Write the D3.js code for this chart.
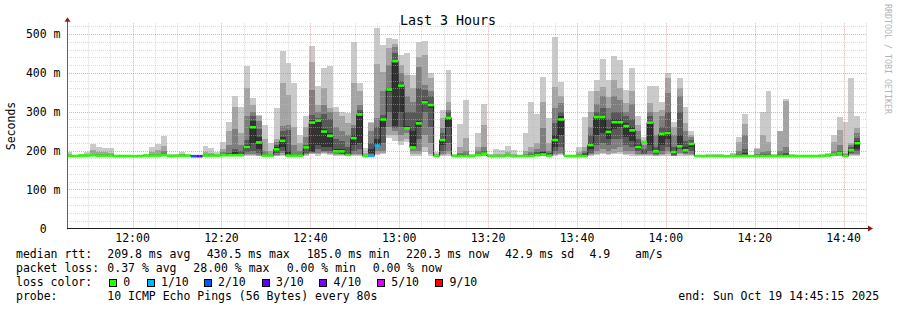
<!DOCTYPE html>
<html><head><meta charset="utf-8">
<script src="https://cdn.jsdelivr.net/npm/d3@7"></script>
<style>
html,body{margin:0;padding:0;background:#fff;}
svg{display:block;font-family:"DejaVu Sans Mono",monospace;}
</style></head><body>
<svg id="c" width="897" height="310"></svg>
<script>
// ---------- data ----------
const title = "Last 3 Hours";
const yAxisTitle = "Seconds";
const watermark = "RRDTOOL / TOBI OETIKER";
const endTime = new Date(2025, 9, 19, 14, 45, 15);
const spanHours = 3;
const stepSeconds = 80;
const firstSampleOffset = -10; // seconds relative to graph start
const yMax = 530;
const yTicks = [0, 100, 200, 300, 400, 500];
const yTickLabels = ["0", "100 m", "200 m", "300 m", "400 m", "500 m"];

// median rtt (ms) per 80 s step
const median = [
 186,186,187,187,188,187,187,187,186,186, 186,185.5,186,187,187,187,188,186,186.5,187,
 187,185.5,185.5,187,187,187,188,188,188,188, 209,260,221,187,187,203,225,187,187,187,
 208,272,277,249,238,198,198,189,232,293, 186,186,213,280,357,430,367,257,208,270,
 324,317,186,227,284,186,186,186,186,188, 192,186,186,185.5,187,185.5,186,186,186,188,
 190,187,227,280,186,186,186,186,214,286, 286,248,273,273,263,252,209,222,272,198,
 243,245,196,211,201,217,186,186,186,186, 186,185.5,186,186,186,186,185.5,186,186,186,
 186,186,186,186,186,186,186,186,187,190, 193,186,201,219,null
];
// lost pings out of 10 per step
const loss = [
 0,0,0,0,0,0,0,0,0,0, 0,0,0,0,0,0,0,0,0,0,
 0,2,3,0,0,0,0,0,0,0, 0,0,0,0,0,0,0,0,0,0,
 0,0,0,0,0,0,0,0,0,0, 0,1,1,0,0,0,0,0,0,0,
 0,0,0,0,0,0,0,0,0,0, 0,0,0,0,0,0,0,0,0,0,
 0,0,0,0,0,0,0,0,0,0, 0,0,0,0,0,0,0,0,0,0,
 0,0,0,0,0,0,0,0,0,0, 0,0,0,0,0,0,0,0,0,0,
 0,0,0,0,0,0,0,0,0,0, 0,0,0,0,0
];
// sorted ping times (ms) per step (smoke)
const pings = [
 [185,185,186,186,186,187,187,188,190,197],
 [185,185,186,186,186,186,187,187,188,189],
 [185,186,186,187,187,187,188,188,189,190],
 [185,186,186,187,187,188,188,189,191,197],
 [185,186,187,187,188,188,189,190,201,217],
 [185,186,186,187,187,188,189,192,197,208],
 [185,186,186,187,187,188,189,191,197,207],
 [185,186,186,187,187,187,188,190,195,207],
 [185,185,186,186,186,187,187,187,188,189],
 [185,185,186,186,186,187,187,187,188,189],
 [185,185,186,186,186,186,187,187,188,188],
 [185,185,185,186,186,186,186,187,187,188],
 [185,185,186,186,186,187,187,187,188,189],
 [185,186,186,187,187,187,188,188,189,191],
 [185,186,186,187,187,188,188,190,197,208],
 [185,186,186,187,187,188,189,192,201,217],
 [185,186,187,187,188,189,191,200,212,237],
 [185,185,186,186,186,187,187,187,188,190],
 [185,186,186,186,187,187,187,188,189,191],
 [185,186,186,187,187,188,188,190,192,197],
 [185,186,186,186,187,187,187,188,188,190],
 [185,185,185,186,186,186,186,187,187,188],
 [185,185,185,185,186,186,186,186,187,188],
 [185,186,186,187,187,188,189,191,197,212],
 [185,186,186,187,187,188,188,190,194,206],
 [185,186,186,186,187,187,188,188,190,197],
 [185,186,187,187,188,189,191,196,205,223],
 [185,186,187,188,189,191,195,215,250,274],
 [186,187,188,190,192,196,205,255,313,340],
 [186,187,188,189,190,192,198,215,245,313],
 [187,189,192,197,205,215,227,289,360,418],
 [186,188,192,200,220,275,290,300,318,334],
 [186,187,189,195,205,235,255,275,290,291],
 [185,186,187,187,188,189,191,200,230,266],
 [185,186,186,187,187,188,189,192,200,219],
 [186,187,189,193,198,208,215,222,231,309],
 [187,189,193,199,210,235,250,263,373,457],
 [185,186,186,187,188,200,253,265,343,425],
 [185,186,186,187,187,188,192,215,261,375],
 [185,186,186,187,187,188,190,200,220,240],
 [187,188,190,195,205,210,215,235,260,290],
 [190,192,194,196,197,278,292,356,429,470],
 [187,190,195,205,214,280,284,300,317,367],
 [190,193,196,199,210,255,294,317,361,412],
 [188,191,195,200,210,245,280,300,309,418],
 [186,188,190,193,197,205,230,260,299,313],
 [186,188,190,192,197,203,225,250,290,298],
 [185,186,187,188,189,195,210,240,270,297],
 [186,188,190,200,215,240,258,266,374,479],
 [186,188,192,205,220,300,305,317,352,374],
 [185,185,186,186,186,187,187,189,195,207],
 [185,186,187,190,195,205,220,250,272,274],
 [188,192,200,210,213,230,260,284,422,515],
 [192,195,200,220,260,285,292,352,403,472],
 [232,240,260,300,350,360,361,420,463,490],
 [225,240,250,258,262,432,450,467,475,486],
 [214,225,240,260,300,370,380,400,420,445],
 [222,230,245,255,257,262,300,340,394,450],
 [186,190,200,208,210,250,300,326,360,394],
 [186,190,200,230,260,275,361,416,442,480],
 [197,210,240,300,320,330,355,369,446,482],
 [186,190,220,260,310,320,340,352,386,399],
 [185,186,186,187,187,187,188,189,192,197],
 [186,188,192,200,215,230,245,258,284,304],
 [186,190,200,220,260,287,300,304,326,407],
 [185,185,186,186,186,187,187,188,189,192],
 [185,186,186,187,187,188,190,195,210,268],
 [185,186,187,187,188,189,192,200,232,330],
 [185,185,186,186,186,187,187,188,189,191],
 [185,186,187,187,188,189,192,198,210,244],
 [186,187,188,190,191,195,200,210,266,320],
 [185,185,186,186,186,187,187,188,188,190],
 [185,186,186,186,187,187,188,189,192,204],
 [185,185,186,186,186,187,187,188,190,201],
 [185,186,186,187,187,188,189,191,196,212],
 [185,185,186,186,186,187,187,188,190,201],
 [185,185,186,186,186,186,187,187,188,189],
 [185,186,186,187,187,188,189,192,200,244],
 [185,186,186,187,188,189,191,196,210,326],
 [185,186,187,188,189,192,196,203,219,294],
 [186,187,188,190,192,196,200,257,326,390],
 [185,186,187,188,189,192,195,200,219,283],
 [186,188,190,198,210,240,270,309,364,493],
 [188,190,195,210,240,290,300,322,340,377],
 [185,185,186,186,186,187,187,187,188,189],
 [185,185,186,186,186,187,187,187,188,189],
 [185,186,186,187,187,188,189,191,196,210],
 [185,186,187,188,189,191,195,200,210,287],
 [186,188,190,195,205,220,240,260,300,352],
 [188,192,200,215,240,288,300,320,352,382],
 [190,195,205,220,245,290,310,340,364,436],
 [188,192,200,215,230,255,280,310,339,382],
 [190,195,205,230,255,280,300,340,382,443],
 [190,196,210,230,260,280,300,330,361,433],
 [188,192,200,215,235,270,290,300,322,356],
 [186,190,198,210,225,260,280,320,352,412],
 [186,188,192,198,205,215,230,250,266,289],
 [186,188,190,192,196,200,205,215,225,236],
 [186,188,192,200,215,275,290,300,322,367],
 [186,187,189,192,196,200,210,240,300,367],
 [186,188,192,200,215,245,260,290,305,326],
 [186,190,198,210,230,250,300,347,386,399],
 [185,186,187,188,192,198,210,240,260,274],
 [187,190,195,205,215,240,300,340,360,386],
 [186,188,190,194,200,210,225,250,270,313],
 [186,188,191,198,210,220,228,235,240,250],
 [185,185,186,186,186,187,187,187,188,189],
 [185,185,186,186,186,187,187,187,188,189],
 [185,185,186,186,186,187,187,188,189,191],
 [185,185,186,186,186,187,187,188,189,191],
 [185,185,186,186,186,187,187,188,189,191],
 [185,185,185,186,186,186,187,187,188,189],
 [185,185,186,186,186,187,187,188,190,193],
 [185,186,186,187,187,188,190,200,223,234],
 [185,186,187,188,190,195,205,240,268,294],
 [185,185,186,186,186,187,187,187,188,189],
 [185,185,186,186,186,187,188,190,203,207],
 [185,186,186,187,187,188,190,196,240,300],
 [185,186,186,187,187,188,190,198,223,352],
 [185,185,186,186,186,187,187,188,189,190],
 [185,186,186,187,187,188,190,200,250,251],
 [185,186,186,187,188,190,195,210,328,332],
 [185,185,186,186,186,187,187,188,189,191],
 [185,185,186,186,186,187,187,187,188,189],
 [185,185,186,186,186,187,187,187,188,189],
 [185,185,186,186,186,187,187,187,188,189],
 [185,185,186,186,186,187,187,187,188,189],
 [185,185,186,186,186,187,187,187,188,190],
 [185,186,186,187,187,188,188,189,190,193],
 [185,186,187,188,189,190,193,200,223,240],
 [186,187,188,190,192,196,200,215,253,287],
 [185,186,186,187,187,188,189,191,195,274],
 [186,188,190,194,198,205,210,215,220,386],
 [187,189,192,198,205,225,233,245,259,289],
 null
];

const lossBuckets = [0, 1, 2, 3, 4, 5, 9];
const lossColors = ["#26ff00", "#00b8ff", "#0059ff", "#5e00ff", "#7e00ff", "#dd00ff", "#ff0000"];
const lossLabels = ["0", "1/10", "2/10", "3/10", "4/10", "5/10", "9/10"];

const rttLabel = "median rtt:";
const rttStats = ["209.8 ms avg", "430.5 ms max", "185.0 ms min", "220.3 ms now", "42.9 ms sd", "4.9", "am/s"];
const lossLabel = "packet loss:";
const lossStats = ["0.37 % avg", "28.00 % max", "0.00 % min", "0.00 % now"];
const lossColorLabel = "loss color:";
const probeLabel = "probe:";
const probeText = "10 ICMP Echo Pings (56 Bytes) every 80s";
const endText = "end: Sun Oct 19 14:45:15 2025";

// ---------- layout ----------
const W = 897, H = 310;
const plot = {left: 67, right: 867, bottom: 228.3, top: 22.3};
const smokeGrays = ["#cacaca", "#a4a4a4", "#7e7e7e", "#585858", "#323232"];
const FS = 11.5;

const svg = d3.select("#c");
svg.append("rect").attr("width", W).attr("height", H).attr("fill", "#fff");

const startTime = new Date(endTime.getTime() - spanHours * 3600e3);
const x = d3.scaleTime().domain([startTime, endTime]).range([plot.left, plot.right]);
const y = d3.scaleLinear().domain([0, yMax]).range([plot.bottom, plot.top]);

const cols = median.map((m, k) => {
  const t0 = new Date(startTime.getTime() + (firstSampleOffset + k * stepSeconds) * 1000);
  const t1 = new Date(t0.getTime() + stepSeconds * 1000);
  return {k, m, p: pings[k], l: loss[k], x0: Math.max(plot.left, x(t0)), x1: Math.min(plot.right, x(t1))};
}).filter(c => c.x1 > c.x0);

const defs = svg.append("defs");
defs.append("clipPath").attr("id", "pc").append("rect")
  .attr("x", plot.left).attr("y", plot.top).attr("width", plot.right - plot.left).attr("height", plot.bottom - plot.top);

const g = svg.append("g").attr("clip-path", "url(#pc)");

// smoke
cols.filter(c => c.p).forEach(c => {
  for (let b = 0; b < 5; b++) {
    const lo = c.p[b], hi = c.p[9 - b];
    const yt = y(hi), yb = y(lo);
    g.append("rect").attr("x", c.x0).attr("width", c.x1 - c.x0)
      .attr("y", yt).attr("height", Math.max(0, yb - yt))
      .attr("fill", smokeGrays[b]).attr("shape-rendering", "crispEdges");
  }
});

// median line
const pts = [];
cols.forEach(c => {
  if (c.m == null) { pts.push(null); return; }
  pts.push([c.x0, y(c.m)], [c.x1, y(c.m)]);
});
g.append("path")
  .attr("d", d3.line().defined(d => d != null).x(d => d[0]).y(d => d[1])(pts))
  .attr("fill", "none").attr("stroke", "#202020").attr("stroke-width", 1);

// median markers colored by loss
function lossColor(l) {
  const i = lossBuckets.findIndex(b => l <= b);
  return lossColors[i < 0 ? lossColors.length - 1 : i];
}
cols.filter(c => c.m != null).forEach(c => {
  g.append("rect").attr("x", c.x0).attr("width", c.x1 - c.x0)
    .attr("y", y(c.m) - 1.3).attr("height", 2.6)
    .attr("fill", lossColor(c.l));
});

// grid (drawn over data like rrdtool)
const grid = svg.append("g");
const minorV = d3.timeMinute.every(5).range(startTime, endTime);
minorV.forEach(t => {
  const major = t.getMinutes() % 20 === 0;
  const xx = Math.round(x(t)) + 0.5;
  grid.append("line").attr("x1", xx).attr("x2", xx).attr("y1", plot.bottom).attr("y2", plot.top)
    .attr("stroke", major ? "rgba(255,92,92,0.55)" : "rgba(186,186,186,0.5)")
    .attr("stroke-dasharray", "1,1");
});
d3.range(20, yMax, 20).forEach(v => {
  const major = v % 100 === 0;
  const yy = Math.round(y(v)) + 0.5;
  grid.append("line").attr("x1", plot.left).attr("x2", plot.right).attr("y1", yy).attr("y2", yy)
    .attr("stroke", major ? "rgba(255,92,92,0.55)" : "rgba(186,186,186,0.5)")
    .attr("stroke-dasharray", "1,1");
});

// axes
svg.append("line").attr("x1", plot.left + 0.5).attr("x2", plot.left + 0.5)
  .attr("y1", plot.bottom + 1).attr("y2", plot.top - 1).attr("stroke", "#606060");
svg.append("line").attr("x1", plot.left).attr("x2", plot.right + 2)
  .attr("y1", Math.round(plot.bottom) + 0.5).attr("y2", Math.round(plot.bottom) + 0.5).attr("stroke", "#202020");
svg.append("path").attr("d", `M${plot.left - 2.5},${plot.top - 0.5} L${plot.left + 3.5},${plot.top - 0.5} L${plot.left + 0.5},${plot.top - 5} Z`)
  .attr("fill", "#8b1a1a");
const ab = Math.round(plot.bottom) + 0.5;
svg.append("path").attr("d", `M${plot.right + 1},${ab - 3} L${plot.right + 1},${ab + 3} L${plot.right + 6},${ab} Z`)
  .attr("fill", "#8b1a1a");

// y tick labels
yTicks.forEach((v, i) => {
  const isZero = v === 0;
  svg.append("text").attr("x", isZero ? 46.8 : 60.5).attr("y", y(v) + 4.2)
    .attr("text-anchor", "end").attr("font-size", FS).attr("fill", "#000")
    .text(yTickLabels[i]);
});
// x tick labels
d3.timeMinute.every(20).range(startTime, endTime).forEach(t => {
  svg.append("text").attr("x", x(t)).attr("y", 242)
    .attr("text-anchor", "middle").attr("font-size", FS).attr("fill", "#000")
    .text(d3.timeFormat("%H:%M")(t));
});

// title
svg.append("text").attr("x", 448).attr("y", 24.5).attr("text-anchor", "middle")
  .attr("font-size", 13.3).attr("fill", "#000").text(title);
// y axis title
svg.append("text").attr("transform", "translate(14.5,126) rotate(-90)").attr("text-anchor", "middle")
  .attr("font-size", FS).attr("fill", "#000").text(yAxisTitle);
// watermark
svg.append("text").attr("transform", "translate(884.5,4) rotate(90)").attr("text-anchor", "start")
  .attr("font-size", 8.3).attr("fill", "#b4b4b4").text(watermark);

// legend
function lt(xx, yy, s) {
  svg.append("text").attr("x", xx).attr("y", yy).attr("font-size", FS).attr("fill", "#000")
    .attr("xml:space", "preserve").text(s);
}
lt(16, 258, rttLabel);
[107.3, 206.7, 306.7, 406, 505, 589.5, 635].forEach((xx, i) => lt(xx, 258, rttStats[i]));
lt(16, 272, lossLabel);
[107.3, 193.3, 286.7, 372.7].forEach((xx, i) => lt(xx, 272, lossStats[i]));
lt(16, 286, lossColorLabel);
[109, 146.7, 203.7, 261.7, 319.3, 377, 435.3].forEach((xx, i) => {
  svg.append("rect").attr("x", Math.round(xx) + 0.5).attr("y", 279.5).attr("width", 7).attr("height", 7)
    .attr("fill", lossColors[i]).attr("stroke", "#000").attr("stroke-width", 1);
  lt(xx + 14.3, 286, lossLabels[i]);
});
lt(16, 300, probeLabel);
lt(107.3, 300, probeText);
lt(678.3, 300, endText);
</script>
</body></html>
